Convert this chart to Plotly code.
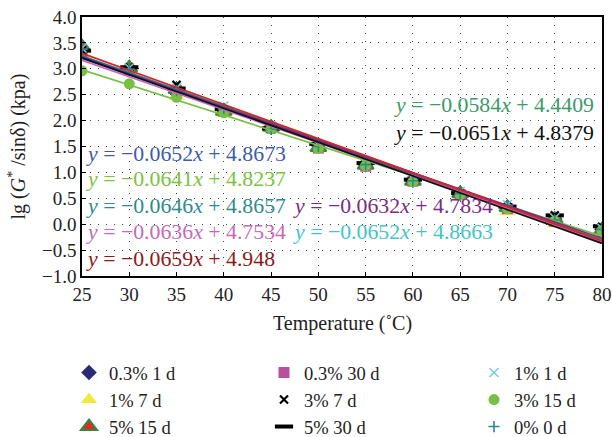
import plotly.graph_objects as go
import numpy as np

temps = [25, 30, 35, 40, 45, 50, 55, 60, 65, 70, 75, 80]
y_ticks = [-1.0, -0.5, 0.0, 0.5, 1.0, 1.5, 2.0, 2.5, 3.0, 3.5, 4.0]
y_tick_labels = ["−1.0", "−0.5", "0.0", "0.5", "1.0", "1.5", "2.0", "2.5", "3.0", "3.5", "4.0"]

names = ["0.3% 1 d", "1% 7 d", "5% 15 d",
         "0.3% 30 d", "3% 7 d", "5% 30 d",
         "1% 1 d", "3% 15 d", "0% 0 d"]

v_03_1 = [3.38, 3.00, 2.60, 2.20, 1.88, 1.52, 1.15, 0.85, 0.60, 0.33, 0.10, -0.10]
v_1_7 = [3.30, 2.98, 2.47, 2.14, 1.87, 1.48, 1.15, 0.82, 0.58, 0.24, 0.01, -0.12]
v_5_15 = [3.43, 3.02, 2.60, 2.18, 1.87, 1.48, 1.14, 0.83, 0.59, 0.32, 0.10, -0.12]
v_03_30 = [3.33, 2.97, 2.58, 2.18, 1.86, 1.47, 1.12, 0.83, 0.57, 0.30, 0.06, -0.15]
v_3_7 = [3.36, 3.03, 2.69, 2.20, 1.84, 1.53, 1.16, 0.84, 0.59, 0.33, 0.17, -0.05]
v_5_30 = [3.35, 3.03, 2.62, 2.22, 1.85, 1.55, 1.18, 0.86, 0.60, 0.34, 0.17, -0.04]
v_1_1 = [3.40, 3.02, 2.63, 2.28, 1.90, 1.53, 1.17, 0.88, 0.63, 0.38, 0.12, -0.08]
v_3_15 = [2.96, 2.71, 2.45, 2.15, 1.84, 1.46, 1.13, 0.82, 0.57, 0.30, 0.06, -0.12]
v_0_0 = [3.38, 2.99, 2.58, 2.22, 1.83, 1.50, 1.15, 0.84, 0.59, 0.36, 0.08, -0.10]

values = [v_03_1, v_1_7, v_5_15, v_03_30, v_3_7, v_5_30, v_1_1, v_3_15, v_0_0]

# trendline equations (slope, intercept) per series
slopes = [-0.0652, -0.0641, -0.0659, -0.0636, -0.0651, -0.0632, -0.0652, -0.0584, -0.0646]
intercepts = [4.8673, 4.8237, 4.948, 4.7534, 4.8379, 4.7834, 4.8663, 4.4409, 4.8657]

FONT = "Liberation Serif"
W, H = 612, 437
PL, PR, PT, PB = 82, 602, 17, 276   # plot area in pixels

marker_styles = [
    dict(symbol="diamond", color="#2B2A72", size=12),
    dict(symbol="triangle-up", color="#F2EA3A", size=14),
    dict(symbol="triangle-up", color="#E8292B", size=14, line=dict(color="#2E8B3A", width=2)),
    dict(symbol="square", color="#B8509F", size=11),
    dict(symbol="x-thin", color="black", size=8, line=dict(color="black", width=2.2)),
    dict(symbol="line-ew", color="black", size=13, line=dict(color="black", width=4)),
    dict(symbol="x-thin", color="#78CCDA", size=9, line=dict(color="#78CCDA", width=1.5)),
    dict(symbol="circle", color="#78C043", size=11),
    dict(symbol="cross-thin", color="#2A8A8A", size=8, line=dict(color="#2A8A8A", width=1.6)),
]
line_colors = ["#3B4FA0", "#E6DC3A", "#E02020", "#C868B8", "#111111", "#7B2D84", "#4CC6CC", "#78C043", "#2A8A8A"]

# legend grid: column left edges and row centres (px)
leg_cols = [69, 264, 474]
leg_rows = [373, 400, 427]

fig = go.Figure()
legend_layout = {}
for i, name in enumerate(names):
    lid = "legend" if i == 0 else f"legend{i + 1}"
    col, row = divmod(i, 3)
    legend_layout[lid] = dict(
        xref="container", yref="container",
        x=leg_cols[col] / W, y=1 - leg_rows[row] / H,
        xanchor="left", yanchor="middle", orientation="v",
        bgcolor="rgba(0,0,0,0)",
        font=dict(family=FONT, size=18.5, color="#222"))
    fig.add_trace(go.Scatter(x=temps, y=values[i], mode="markers", name=name,
                             marker=marker_styles[i], legend=lid))

line_order = [7, 1, 6, 8, 0, 3, 5, 4, 2]
xs = np.array([temps[0], temps[-1]], dtype=float)
for i in line_order:
    fig.add_trace(go.Scatter(x=xs, y=slopes[i] * xs + intercepts[i], mode="lines",
                             line=dict(color=line_colors[i], width=1.7),
                             showlegend=False, hoverinfo="skip"))

# equation labels: (series index, x, y, color)
eq_pos = [
    (0, 25.3, 1.35, "#3F5BA9"),
    (1, 25.3, 0.865, "#7CC242"),
    (8, 25.3, 0.35, "#2E8B8B"),
    (3, 25.3, -0.15, "#C46BB5"),
    (2, 25.3, -0.67, "#8B1A1A"),
    (5, 47.2, 0.35, "#7B2D84"),
    (6, 47.2, -0.15, "#45C4C8"),
    (7, 57.9, 2.31, "#3C9A6B"),
    (4, 57.9, 1.77, "#111111"),
]
for idx, ex, ey, col in eq_pos:
    s = str(slopes[idx]).replace("-", "−")
    txt = f"<i>y</i> = {s}<i>x</i> + {intercepts[idx]}"
    fig.add_annotation(x=ex, y=ey, xref="x", yref="y", text=txt, showarrow=False,
                       xanchor="left", yanchor="middle", borderpad=0,
                       font=dict(family=FONT, size=21.8, color=col))

pw, ph = PR - PL, PB - PT
fig.add_annotation(x=0.5, y=(PB - 323) / ph, xref="paper", yref="paper",
                   text="Temperature (˚C)", showarrow=False, xanchor="center", yanchor="middle",
                   font=dict(family=FONT, size=20, color="#222"))
fig.add_annotation(x=(17 - PL) / pw, y=0.5, xref="paper", yref="paper",
                   text="lg (<i>G</i><sup>*</sup> /sinδ) (kpa)", showarrow=False, textangle=-90,
                   xanchor="center", yanchor="middle",
                   font=dict(family=FONT, size=20, color="#222"))

axis_common = dict(showline=True, linecolor="black", linewidth=1.5, mirror=True,
                   showgrid=True, gridcolor="#444", gridwidth=1, griddash="1px,7px",
                   zeroline=False, ticks="inside", ticklen=4, tickcolor="black",
                   automargin=False,
                   tickfont=dict(family=FONT, size=19, color="#222"))

fig.update_xaxes(range=[25, 80], tickmode="array", tickvals=temps, **axis_common)
fig.update_yaxes(range=[-1, 4], tickmode="array", tickvals=y_ticks, ticktext=y_tick_labels,
                 **axis_common)

fig.update_layout(
    width=W, height=H,
    margin=dict(l=PL, r=W - PR, t=PT, b=H - PB, autoexpand=False),
    paper_bgcolor="white", plot_bgcolor="white",
    **legend_layout,
)
fig.write_html("out.html", config={"displayModeBar": False},
               post_script="document.body.style.margin='0px';document.body.style.overflow='hidden';")
